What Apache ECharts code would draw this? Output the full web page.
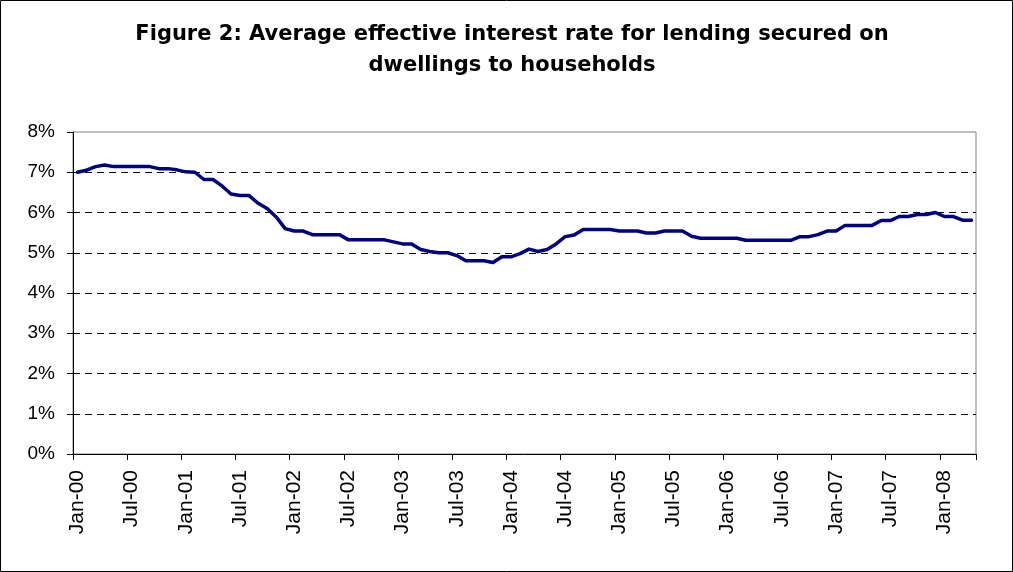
<!DOCTYPE html>
<html>
<head>
<meta charset="utf-8">
<script src="https://cdn.jsdelivr.net/npm/echarts@6/dist/echarts.min.js"></script>
<style>
  html, body { margin: 0; padding: 0; background: #fff; }
  #chart { width: 1013px; height: 572px; }
</style>
</head>
<body>
<div id="chart"></div>
<script>
// Average effective interest rate (%) on lending secured on dwellings, monthly
const monthNames = ['Jan', 'Feb', 'Mar', 'Apr', 'May', 'Jun', 'Jul', 'Aug', 'Sep', 'Oct', 'Nov', 'Dec'];
const yearSuffixes = ['00', '01', '02', '03', '04', '05', '06', '07', '08'];

const rate2000 = [7.00, 7.05, 7.14, 7.18, 7.14, 7.14, 7.14, 7.14, 7.14, 7.09, 7.09, 7.06];
const rate2001 = [7.01, 7.00, 6.82, 6.82, 6.66, 6.46, 6.42, 6.42, 6.23, 6.10, 5.89, 5.60];
const rate2002 = [5.54, 5.54, 5.45, 5.45, 5.45, 5.45, 5.32, 5.32, 5.32, 5.32, 5.32, 5.27];
const rate2003 = [5.22, 5.22, 5.08, 5.03, 5.00, 5.00, 4.93, 4.80, 4.80, 4.80, 4.76, 4.90];
const rate2004 = [4.90, 4.98, 5.09, 5.03, 5.08, 5.22, 5.40, 5.44, 5.58, 5.58, 5.58, 5.58];
const rate2005 = [5.54, 5.54, 5.54, 5.49, 5.49, 5.54, 5.54, 5.54, 5.41, 5.36, 5.36, 5.36];
const rate2006 = [5.36, 5.36, 5.31, 5.31, 5.31, 5.31, 5.31, 5.31, 5.40, 5.40, 5.45, 5.54];
const rate2007 = [5.54, 5.68, 5.68, 5.68, 5.68, 5.80, 5.80, 5.90, 5.90, 5.95, 5.95, 6.00];
const rate2008 = [5.90, 5.90, 5.81, 5.81];

const yTicks = [0, 1, 2, 3, 4, 5, 6, 7, 8];

const rates = [].concat(rate2000, rate2001, rate2002, rate2003, rate2004,
                        rate2005, rate2006, rate2007, rate2008);

// Month labels such as "Jan-00", one per data point
const months = [];
yearSuffixes.forEach(function (yy) {
  monthNames.forEach(function (m) {
    if (months.length < rates.length) months.push(m + '-' + yy);
  });
});

const FONT = '"Liberation Sans", Arial, sans-serif';
const TITLE_FONT = '"DejaVu Sans", Verdana, sans-serif';

const chart = echarts.init(document.getElementById('chart'), null, { renderer: 'canvas' });

// Horizontal gridlines: dashed inside the plot, hidden at 0% and 8% where the frame sits
const splitColors = yTicks.map(function (v, i) {
  return (i === 0 || i === yTicks.length - 1) ? 'rgba(0,0,0,0)' : '#000';
});

chart.setOption({
  animation: false,
  backgroundColor: '#fff',
  title: {
    text: 'Figure 2: Average effective interest rate for lending secured on\ndwellings to households',
    left: 507,
    top: 14,
    textAlign: 'center',
    textStyle: {
      fontFamily: TITLE_FONT,
      fontSize: 21,
      fontWeight: 'bold',
      color: '#000',
      lineHeight: 31,
      align: 'center'
    }
  },
  graphic: [{
    type: 'rect',
    shape: { x: 0.5, y: 0.5, width: 1012, height: 571 },
    style: { fill: 'none', stroke: '#000', lineWidth: 1 },
    silent: true,
    z: 100
  }],
  grid: {
    left: 73,
    right: 37,
    top: 132,
    bottom: 118,
    show: true,
    borderColor: '#808080',
    borderWidth: 1,
    backgroundColor: '#fff'
  },
  xAxis: {
    type: 'category',
    data: months,
    boundaryGap: true,
    axisLine: { show: true, lineStyle: { color: '#000', width: 1 } },
    axisTick: { show: true, interval: 5, length: 6, alignWithLabel: false, lineStyle: { color: '#000' } },
    axisLabel: {
      interval: 5,
      rotate: 90,
      margin: 16,
      fontFamily: FONT,
      fontSize: 21,
      color: '#000'
    },
    splitLine: { show: false }
  },
  yAxis: {
    type: 'value',
    min: 0,
    max: 8,
    interval: 1,
    axisLine: { show: true, lineStyle: { color: '#000', width: 1 } },
    axisTick: { show: true, length: 6, lineStyle: { color: '#000' } },
    axisLabel: {
      formatter: '{value}%',
      margin: 18,
      fontFamily: FONT,
      fontSize: 19,
      color: '#000'
    },
    splitLine: {
      show: true,
      lineStyle: { color: splitColors, width: 1, type: [7, 5] }
    }
  },
  series: [{
    type: 'line',
    data: rates,
    symbol: 'none',
    smooth: false,
    lineStyle: { color: '#000080', width: 3.5, join: 'round', cap: 'round' }
  }]
});
</script>
</body>
</html>
